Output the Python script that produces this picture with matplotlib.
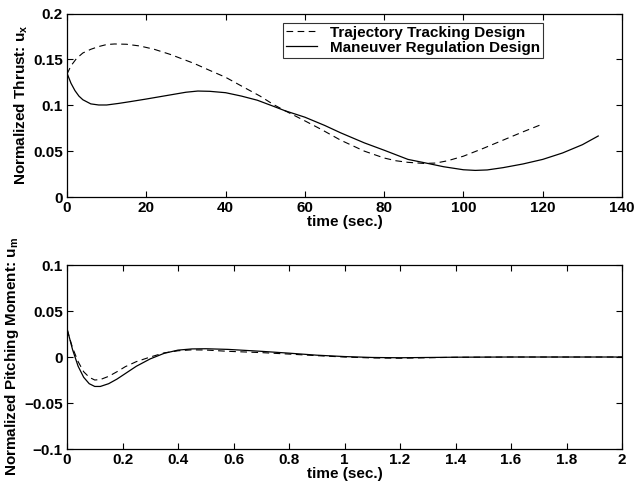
import matplotlib
matplotlib.use('Agg')
from matplotlib import pyplot as plt

plt.rcParams['font.family'] = ['Liberation Sans', 'DejaVu Sans']
plt.rcParams['font.weight'] = 'bold'
plt.rcParams['mathtext.fontset'] = 'custom'
plt.rcParams['mathtext.rm'] = 'Liberation Sans:bold'
plt.rcParams['mathtext.it'] = 'Liberation Sans:bold'
plt.rcParams['mathtext.bf'] = 'Liberation Sans:bold'

# thrust, top panel
t_mr = [0, 1, 2, 3, 4, 6, 8, 10, 13, 16, 20, 25, 30, 33, 36, 40, 44, 48, 52, 55,
        60, 65, 69, 75, 80, 86, 90, 95, 100, 103, 106, 110, 115, 120, 125, 130, 134]
ux_mr = [0.135, 0.124, 0.116, 0.110, 0.106, 0.1015, 0.1003, 0.1003, 0.102, 0.104,
         0.1068, 0.1105, 0.1142, 0.1155, 0.1152, 0.1137, 0.110, 0.1055, 0.099, 0.094,
         0.087, 0.078, 0.070, 0.059, 0.051, 0.041, 0.0375, 0.033, 0.0297, 0.029,
         0.0295, 0.032, 0.036, 0.041, 0.048, 0.057, 0.0665]

t_tt = [0, 1, 2.4, 4, 6, 8, 10, 12, 15, 18.4, 22, 26, 32, 36, 40, 44, 48.7, 52, 55,
        60, 64, 69, 75, 80, 83, 86, 90, 93, 96, 100, 105, 110, 115, 120]
ux_tt = [0.134, 0.143, 0.151, 0.157, 0.161, 0.164, 0.1662, 0.1668, 0.1665, 0.1646,
         0.161, 0.1555, 0.1457, 0.138, 0.1305, 0.121, 0.110, 0.101, 0.094,
         0.083, 0.074, 0.062, 0.050, 0.0425, 0.0395, 0.0378, 0.0366, 0.037, 0.0395,
         0.0445, 0.053, 0.062, 0.071, 0.0796]

# pitching moment, bottom panel
t_um = [0, 0.02, 0.04, 0.06, 0.08, 0.10, 0.12, 0.15, 0.18, 0.21, 0.25, 0.30, 0.35,
        0.40, 0.45, 0.50, 0.58, 0.70, 0.80, 0.90, 1.00, 1.10, 1.20, 1.30, 1.40,
        1.60, 1.80, 2.00]
um_mr = [0.031, 0.008, -0.010, -0.022, -0.029, -0.032, -0.032, -0.029, -0.024,
         -0.018, -0.010, -0.002, 0.004, 0.0075, 0.0088, 0.009, 0.0083, 0.0062,
         0.0042, 0.002, 0.0005, -0.0005, -0.0008, -0.0005, -0.0002, 0.0, 0.0, 0.0]
um_tt = [0.030, 0.010, -0.005, -0.016, -0.022, -0.025, -0.0245, -0.021, -0.016,
         -0.0105, -0.005, 0.0, 0.0045, 0.0068, 0.0078, 0.0076, 0.0062, 0.0048,
         0.0032, 0.0015, 0.0, -0.001, -0.0013, -0.0008, -0.0003, 0.0, 0.0, 0.0]

fig = plt.figure(figsize=(6.34, 4.88), dpi=100)
ax1 = fig.add_axes([0.1057, 0.5963, 0.8754, 0.376])
ax2 = fig.add_axes([0.1057, 0.0799, 0.8754, 0.377])

dash = (0, (6, 4))
fs = 11

ax1.plot(t_tt, ux_tt, color='black', lw=0.8, linestyle=dash, label='Trajectory Tracking Design')
ax1.plot(t_mr, ux_mr, color='black', lw=0.9, label='Maneuver Regulation Design')
ax1.set_xlim(0, 140)
ax1.set_ylim(0, 0.2)
ax1.set_xticks(range(0, 141, 20))
ax1.set_yticks([0, 0.05, 0.1, 0.15, 0.2])
ax1.set_yticklabels(['0', '0.05', '0.1', '0.15', '0.2'])
ax1.set_xlabel('time (sec.)', fontsize=fs, fontweight='bold', labelpad=0)
ax1.set_ylabel('Normalized Thrust: u$_\\mathrm{x}$', fontsize=fs, fontweight='bold', labelpad=2)
leg = ax1.legend(loc='upper left', bbox_to_anchor=(0.389, 0.95), fontsize=fs,
                 frameon=True, fancybox=False, edgecolor='black', handlelength=2.0,
                 handletextpad=0.9, borderpad=0.2, labelspacing=0.05, borderaxespad=0)
leg.get_frame().set_linewidth(0.8)
for txt in leg.get_texts():
    txt.set_fontweight('bold')

ax2.plot(t_um, um_tt, color='black', lw=0.8, linestyle=dash)
ax2.plot(t_um, um_mr, color='black', lw=0.9)
ax2.set_xlim(0, 2)
ax2.set_ylim(-0.1, 0.1)
ax2.set_xticks([0, 0.2, 0.4, 0.6, 0.8, 1, 1.2, 1.4, 1.6, 1.8, 2])
ax2.set_xticklabels(['0', '0.2', '0.4', '0.6', '0.8', '1', '1.2', '1.4', '1.6', '1.8', '2'])
ax2.set_yticks([-0.1, -0.05, 0, 0.05, 0.1])
ax2.set_yticklabels(['\u22120.1', '\u22120.05', '0', '0.05', '0.1'])
ax2.set_xlabel('time (sec.)', fontsize=fs, fontweight='bold', labelpad=0)
ax2.set_ylabel('Normalized Pitching Moment: u$_\\mathrm{m}$', fontsize=fs, fontweight='bold', labelpad=2)

for ax in (ax1, ax2):
    ax.tick_params(direction='in', top=True, right=True, length=4, width=0.8,
                   labelsize=fs, pad=3)
    for lbl in ax.get_xticklabels() + ax.get_yticklabels():
        lbl.set_fontweight('bold')
    for sp in ax.spines.values():
        sp.set_linewidth(0.9)

fig.savefig('out.png', dpi=100)
